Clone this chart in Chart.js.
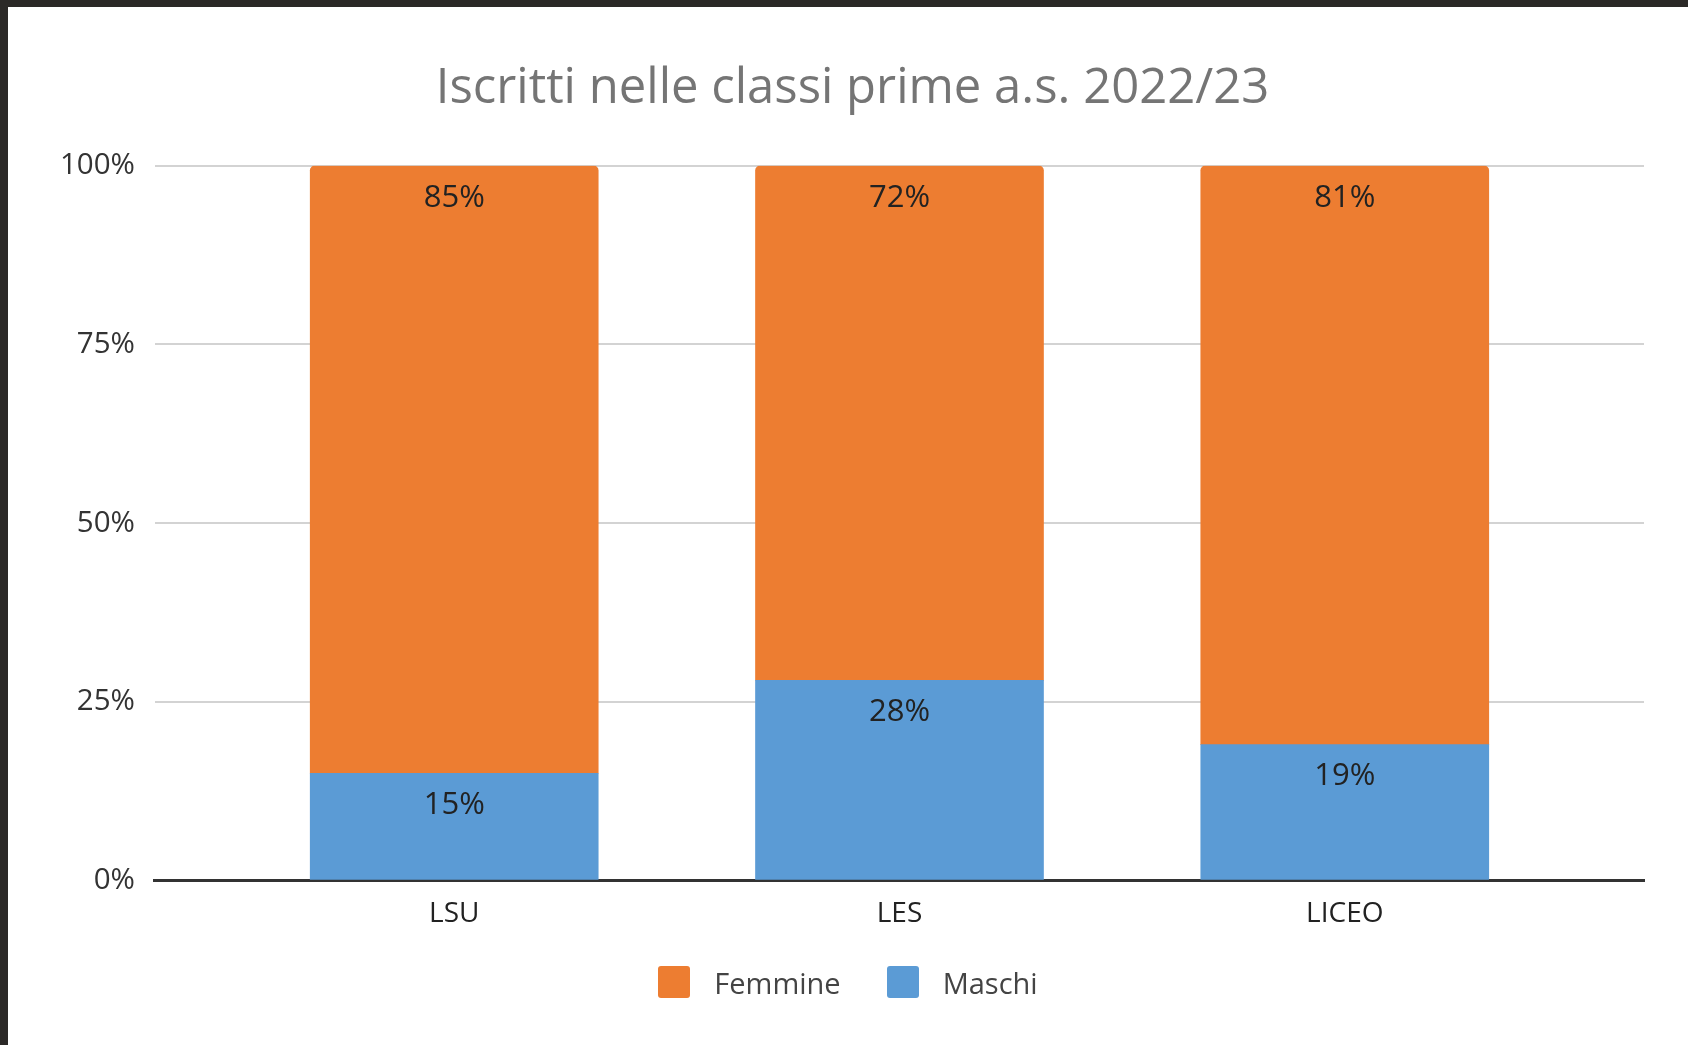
<!DOCTYPE html>
<html>
<head>
<meta charset="utf-8">
<script src="https://cdn.jsdelivr.net/npm/chart.js@4.4.0/dist/chart.umd.min.js"></script>
<style>
  body { margin: 0; background: #2b2927; width: 1688px; height: 1045px; overflow: hidden; }
  #grafico { position: absolute; left: 8px; top: 7px; background: #fff; }
  #legenda { position: absolute; left: 8px; width: 1680px; top: 962px; height: 40px;
             display: flex; justify-content: center; align-items: center;
             font-family: "Open Sans"; font-size: 29px; color: #444; }
  #legenda .voce { display: flex; align-items: center; margin: 0 23px; }
  #legenda .box { width: 32px; height: 32px; border-radius: 3px; margin-right: 24px; }
</style>
</head>
<body>
<canvas id="grafico" width="1680" height="1038"></canvas>
<div id="legenda"></div>
<script>
// dati (percentuali)
var categorie = ['LSU', 'LES', 'LICEO'];
var maschi = [15, 28, 19];
var femmine = [85, 72, 81];
var tickY = [0, 25, 50, 75, 100];

// etichette dentro le barre
var etichette = {
    id: 'etichette',
    afterDatasetsDraw: function (chart) {
        var ctx = chart.ctx;
        ctx.save();
        ctx.font = '31px "Open Sans"';
        ctx.fillStyle = '#222';
        ctx.textAlign = 'center';
        ctx.textBaseline = 'middle';
        chart.data.datasets.forEach(function (ds, i) {
            chart.getDatasetMeta(i).data.forEach(function (bar, j) {
                ctx.fillText(ds.data[j].y + '%', bar.x, bar.y + 32);
            });
        });
        ctx.restore();
    }
};

// legenda html (Femmine prima, poi Maschi)
var legendaHtml = {
    id: 'legendaHtml',
    afterUpdate: function (chart) {
        var div = document.getElementById('legenda');
        div.innerHTML = '';
        chart.data.datasets.slice().reverse().forEach(function (ds) {
            var voce = document.createElement('div');
            voce.className = 'voce';
            var box = document.createElement('span');
            box.className = 'box';
            box.style.background = ds.backgroundColor;
            var testo = document.createElement('span');
            testo.textContent = ds.label;
            voce.appendChild(box);
            voce.appendChild(testo);
            div.appendChild(voce);
        });
    }
};

var ctx = document.getElementById('grafico').getContext('2d');

var grafico = new Chart(ctx, {
    type: 'bar',
    data: {
        datasets: [
            {
                label: 'Maschi',
                backgroundColor: '#5b9bd5',
                data: maschi.map(function (v, i) { return { x: i, y: v }; }),
                barThickness: 288,
                borderRadius: 0
            },
            {
                label: 'Femmine',
                backgroundColor: '#ed7d31',
                data: femmine.map(function (v, i) { return { x: i, y: v }; }),
                barThickness: 288,
                borderSkipped: false,
                borderRadius: { topLeft: 5, topRight: 5, bottomLeft: 0, bottomRight: 0 }
            }
        ]
    },
    options: {
        responsive: false,
        devicePixelRatio: 1,
        animation: false,
        layout: { padding: { left: 53, right: 44, top: 0, bottom: 97 } },
        plugins: {
            title: {
                display: true,
                text: 'Iscritti nelle classi prime a.s. 2022/23',
                color: '#757575',
                font: { family: 'Open Sans', size: 49, weight: 'normal', lineHeight: 1.2 },
                padding: { top: 53, bottom: 47 }
            },
            legend: { display: false },
            tooltip: { enabled: false }
        },
        scales: {
            x: {
                type: 'linear',
                stacked: true,
                offset: false,
                min: -0.672,
                max: 2.672,
                afterBuildTicks: function (axis) {
                    axis.ticks = categorie.map(function (c, i) { return { value: i }; });
                },
                grid: { display: false, drawTicks: false },
                border: { display: true, color: '#333', width: 3 },
                ticks: {
                    padding: 17,
                    color: '#222',
                    font: { family: 'Open Sans', size: 28, lineHeight: 1.2 },
                    callback: function (v) { return categorie[v]; }
                }
            },
            y: {
                stacked: true,
                min: 0,
                max: 100,
                afterBuildTicks: function (axis) {
                    axis.ticks = tickY.map(function (v) { return { value: v }; });
                },
                afterFit: function (axis) {
                    axis.width -= 21;
                },
                grid: { color: '#d3d3d3', lineWidth: 2, drawTicks: false },
                border: { display: false },
                ticks: {
                    padding: 20,
                    color: '#333',
                    font: { family: 'Open Sans', size: 29.5 },
                    callback: function (v) { return v + '%'; }
                }
            }
        }
    },
    plugins: [etichette, legendaHtml]
});
</script>
</body>
</html>
